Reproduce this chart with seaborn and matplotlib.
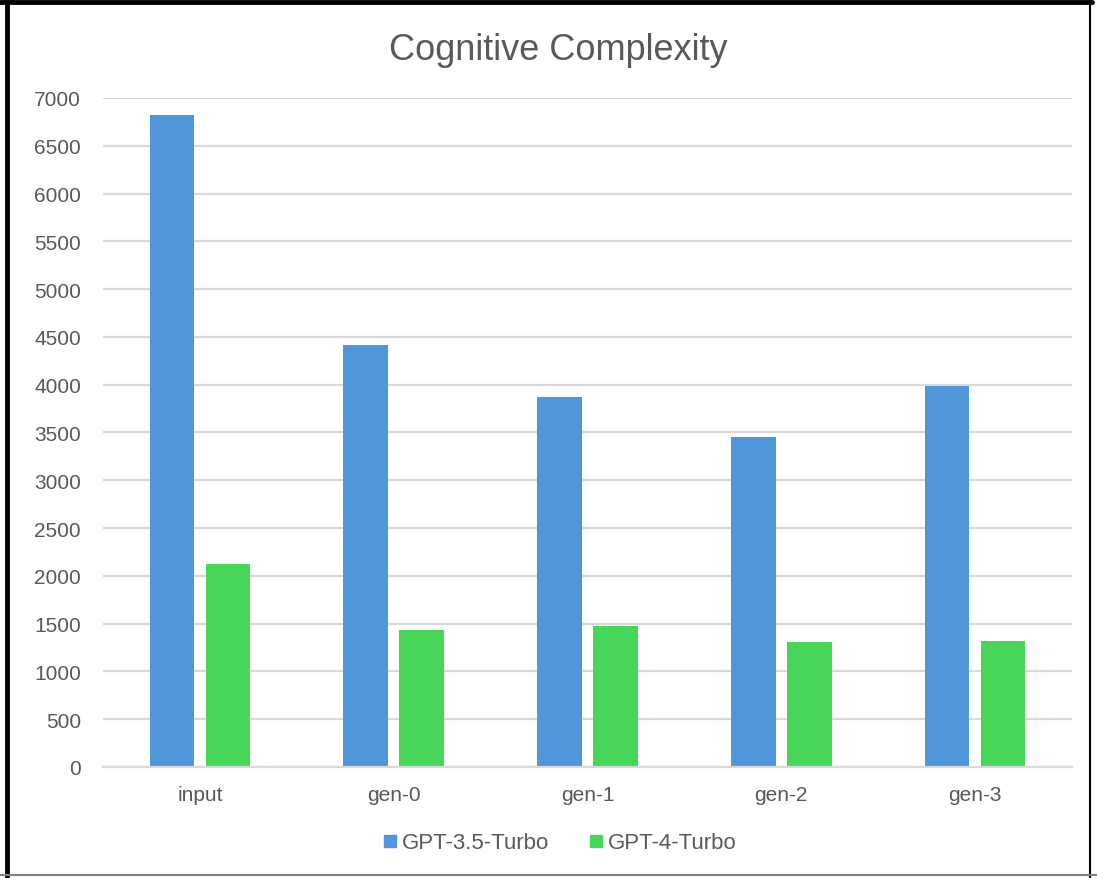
import matplotlib
matplotlib.use("Agg")
import matplotlib.pyplot as plt
from matplotlib.lines import Line2D
import seaborn as sns
import pandas as pd

# Cognitive complexity totals per generation
stages = ["input", "gen-0", "gen-1", "gen-2", "gen-3"]
gpt35 = [6820, 4415, 3870, 3450, 3985]
gpt4 = [2125, 1430, 1476, 1305, 1320]
models = ["GPT-3.5-Turbo", "GPT-4-Turbo"]
palette = {"GPT-3.5-Turbo": "#4F96DA", "GPT-4-Turbo": "#47D65A"}
yticks = list(range(0, 7001, 500))

df = pd.DataFrame({
    "stage": stages * 2,
    "model": [models[0]] * len(stages) + [models[1]] * len(stages),
    "value": gpt35 + gpt4,
})

sns.set_theme(style="white")
plt.rcParams["font.family"] = ["Liberation Sans", "DejaVu Sans"]

text_color = "#595959"
grid_color = "#D9D9D9"

fig = plt.figure(figsize=(10.97, 8.79), dpi=100)
ax = fig.add_axes([0.094, 0.1263, 0.883, 0.7611])

sns.barplot(data=df, x="stage", y="value", hue="model", order=stages,
            hue_order=models, palette=palette, width=0.578, gap=0.2,
            saturation=1, ax=ax, legend=False, edgecolor="none")

ax.set_xlim(-0.5, len(stages) - 0.5)
ax.set_ylim(0, 7000)
ax.set_yticks(yticks)
ax.set_yticklabels([str(t) for t in yticks])
ax.yaxis.grid(True, color=grid_color, linewidth=1.6)
ax.xaxis.grid(False)
ax.set_axisbelow(True)
for side in ["top", "right", "left"]:
    ax.spines[side].set_visible(False)
ax.spines["bottom"].set_color(grid_color)
ax.spines["bottom"].set_linewidth(1.6)
ax.tick_params(axis="both", length=0, labelsize=15, labelcolor=text_color)
ax.tick_params(axis="y", pad=16)
ax.tick_params(axis="x", pad=13)
ax.set_xlabel("")
ax.set_ylabel("")

fig.text(0.509, 0.943, "Cognitive Complexity", ha="center", va="center",
         fontsize=26, color=text_color)

handles = [Line2D([], [], marker="s", linestyle="none", markersize=9,
                  markerfacecolor=palette[m], markeredgecolor=palette[m])
           for m in models]
fig.legend(handles, models, loc="center", bbox_to_anchor=(0.510, 0.040),
           ncol=2, frameon=False, fontsize=16, labelcolor=text_color,
           handletextpad=0.15, columnspacing=1.8, handlelength=0.7)

# Frame around the figure
fig.add_artist(Line2D([0.0065, 0.0065], [0.0, 1.0], color="black",
                      linewidth=3.5, transform=fig.transFigure))
fig.add_artist(Line2D([0.0, 0.995], [0.9965, 0.9965], color="black",
                      linewidth=3.5, transform=fig.transFigure))
fig.add_artist(Line2D([0.994, 0.994], [0.0, 1.0], color="black",
                      linewidth=1.5, transform=fig.transFigure))
fig.add_artist(Line2D([0.0, 1.0], [0.003, 0.003], color="#808080",
                      linewidth=1.5, transform=fig.transFigure))

fig.savefig("out.png", dpi=100)
